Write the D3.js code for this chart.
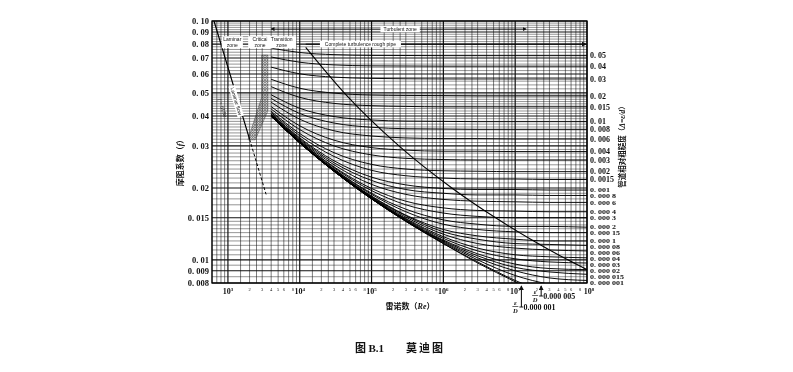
<!DOCTYPE html>
<html>
<head>
<meta charset="utf-8">
<script src="https://cdn.jsdelivr.net/npm/d3@7"></script>
<style>
  body { margin: 0; background: #fff; }
  svg { will-change: transform; }
  text { fill: #111; -webkit-font-smoothing: antialiased; }
</style>
</head>
<body>
<div id="chart"></div>
<script>
const reNodes = [4e3, 1e4, 3e4, 1e5, 3e5, 1e6, 3e6, 1e7, 3e7, 1e8];

// relative roughness of each curve (top to bottom)
const roughness = [0.05, 0.04, 0.03, 0.02, 0.015, 0.01, 0.008, 0.006, 0.004, 0.003, 0.002, 0.0015,
  0.001, 0.0008, 0.0006, 0.0004, 0.0003, 0.0002, 0.00015, 0.0001, 0.00008, 0.00006, 0.00004,
  0.00003, 0.00002, 0.000015, 0.00001, 0.000005, 0.000001];

// friction factor read at each reNodes value, one row per roughness
const frictionRows = [
  [0.0770, 0.0738, 0.0723, 0.0718, 0.0717, 0.0716, 0.0716, 0.0716, 0.0716, 0.0716],
  [0.0707, 0.0672, 0.0655, 0.0649, 0.0648, 0.0647, 0.0647, 0.0647, 0.0647, 0.0647],
  [0.0641, 0.0601, 0.0582, 0.0575, 0.0573, 0.0572, 0.0572, 0.0572, 0.0572, 0.0572],
  [0.0570, 0.0523, 0.0499, 0.0490, 0.0488, 0.0487, 0.0486, 0.0486, 0.0486, 0.0486],
  [0.0531, 0.0479, 0.0452, 0.0442, 0.0439, 0.0437, 0.0437, 0.0437, 0.0437, 0.0437],
  [0.0491, 0.0431, 0.0398, 0.0385, 0.0381, 0.0380, 0.0379, 0.0379, 0.0379, 0.0379],
  [0.0474, 0.0410, 0.0374, 0.0359, 0.0354, 0.0353, 0.0352, 0.0352, 0.0352, 0.0352],
  [0.0457, 0.0388, 0.0347, 0.0330, 0.0324, 0.0322, 0.0322, 0.0321, 0.0321, 0.0321],
  [0.0438, 0.0364, 0.0317, 0.0295, 0.0288, 0.0285, 0.0285, 0.0284, 0.0284, 0.0284],
  [0.0428, 0.0351, 0.0300, 0.0275, 0.0266, 0.0263, 0.0262, 0.0262, 0.0262, 0.0262],
  [0.0419, 0.0338, 0.0281, 0.0251, 0.0240, 0.0236, 0.0235, 0.0234, 0.0234, 0.0234],
  [0.0414, 0.0331, 0.0271, 0.0237, 0.0225, 0.0220, 0.0218, 0.0218, 0.0217, 0.0217],
  [0.0409, 0.0324, 0.0260, 0.0222, 0.0206, 0.0199, 0.0197, 0.0197, 0.0196, 0.0196],
  [0.0407, 0.0321, 0.0255, 0.0215, 0.0197, 0.0190, 0.0187, 0.0187, 0.0186, 0.0186],
  [0.0405, 0.0318, 0.0250, 0.0207, 0.0188, 0.0179, 0.0176, 0.0175, 0.0174, 0.0174],
  [0.0403, 0.0315, 0.0245, 0.0199, 0.0176, 0.0165, 0.0161, 0.0160, 0.0159, 0.0159],
  [0.0402, 0.0314, 0.0243, 0.0195, 0.0170, 0.0157, 0.0152, 0.0150, 0.0150, 0.0150],
  [0.0401, 0.0312, 0.0240, 0.0190, 0.0163, 0.0147, 0.0141, 0.0138, 0.0138, 0.0137],
  [0.0401, 0.0311, 0.0239, 0.0188, 0.0159, 0.0141, 0.0134, 0.0131, 0.0130, 0.0130],
  [0.0400, 0.0310, 0.0238, 0.0185, 0.0154, 0.0134, 0.0126, 0.0122, 0.0120, 0.0120],
  [0.0400, 0.0310, 0.0237, 0.0184, 0.0153, 0.0131, 0.0122, 0.0117, 0.0116, 0.0115],
  [0.0400, 0.0310, 0.0236, 0.0183, 0.0151, 0.0128, 0.0117, 0.0112, 0.0110, 0.0109],
  [0.0400, 0.0309, 0.0236, 0.0182, 0.0149, 0.0125, 0.0112, 0.0105, 0.0103, 0.0102],
  [0.0399, 0.0309, 0.0236, 0.0182, 0.0148, 0.0123, 0.0109, 0.0101, 0.0098, 0.0097],
  [0.0399, 0.0309, 0.0235, 0.0181, 0.0147, 0.0121, 0.0106, 0.0096, 0.0092, 0.0091],
  [0.0399, 0.0309, 0.0235, 0.0181, 0.0146, 0.0120, 0.0104, 0.0093, 0.0089, 0.0087],
  [0.0399, 0.0309, 0.0235, 0.0180, 0.0146, 0.0119, 0.0102, 0.0090, 0.0084, 0.0082],
  [0.0399, 0.0309, 0.0235, 0.0180, 0.0145, 0.0118, 0.0100, 0.0086, 0.0079, 0.0075],
  [0.0399, 0.0309, 0.0235, 0.0180, 0.0145, 0.0117, 0.0098, 0.0082, 0.0072, 0.0064]
];
// hydraulically smooth pipe
const smoothRow = [0.0399, 0.0309, 0.0235, 0.0180, 0.0145, 0.0117, 0.0097, 0.0081, 0.0069, 0.0059];

// labels printed on the right (first 27 curves)
const rightLabels = ["0. 05", "0. 04", "0. 03", "0. 02", "0. 015", "0. 01", "0. 008", "0. 006",
  "0. 004", "0. 003", "0. 002", "0. 0015", "0. 001", "0. 000 8", "0. 000 6", "0. 000 4",
  "0. 000 3", "0. 000 2", "0. 000 15", "0. 000 1", "0. 000 08", "0. 000 06", "0. 000 04",
  "0. 000 03", "0. 000 02", "0. 000 015", "0. 000 001"];

const yTicks = [0.10, 0.09, 0.08, 0.07, 0.06, 0.05, 0.04, 0.03, 0.02, 0.015, 0.01, 0.009, 0.008];
const yTickLabels = ["0. 10", "0. 09", "0. 08", "0. 07", "0. 06", "0. 05", "0. 04", "0. 03",
  "0. 02", "0. 015", "0. 01", "0. 009", "0. 008"];

const xDecades = [3, 4, 5, 6, 7, 8];
const xMinorLabels = [2, 3, 4, 5, 6, 8];
const gridMultipliers = [1, 1.5, 2, 2.5, 3, 4, 5, 6, 7, 8, 9];

// laminar line f = 64/Re, read at its ends
const laminarSolid = [[640, 0.100], [2000, 0.032]];
const laminarDashed = [[2000, 0.032], [3400, 0.0188]];

// boundary between transition and complete turbulence
const boundaryRe = [12100, 41600, 240600, 1.313e6, 5.34e6, 1.81e7, 5.4e7, 1e8];
const boundaryF = [0.0775, 0.05, 0.03, 0.02, 0.015, 0.012, 0.01, 0.0091];

// hatched critical zone outline
const criticalZone = [[1900, 0.0318], [2400, 0.0318], [3600, 0.042], [3600, 0.072], [2950, 0.072], [2950, 0.048]];

// arrows at the bottom: roughness curves leaving the chart
const bottomArrows = [
  { re: 1.22e7, value: "0.000 001", len: 22 },
  { re: 2.3e7, value: "0.000 005", len: 11 }
];

const W = 793, H = 372;
const serif = "'Liberation Serif','DejaVu Serif',serif";
const cjk = "'Noto Sans CJK SC','Noto Sans',sans-serif";
const sans = "'Liberation Sans',Arial,sans-serif";

const svg = d3.select("#chart").append("svg")
  .attr("width", W).attr("height", H)
  .style("background", "#fff");

const plot = { left: 212, right: 587, top: 21, bottom: 283 };
const x = d3.scaleLog().domain([600, 1e8]).range([plot.left, plot.right]);
const y = d3.scaleLog().domain([0.008, 0.1]).range([plot.bottom, plot.top]);

const defs = svg.append("defs");
defs.append("clipPath").attr("id", "plot-clip")
  .append("rect")
  .attr("x", plot.left).attr("y", plot.top)
  .attr("width", plot.right - plot.left).attr("height", plot.bottom - plot.top);

const hatch = defs.append("pattern")
  .attr("id", "hatch").attr("patternUnits", "userSpaceOnUse")
  .attr("width", 2.5).attr("height", 2.5);
hatch.append("path").attr("d", "M0,2.5 L2.5,0").attr("stroke", "#333").attr("stroke-width", 0.5);
hatch.append("path").attr("d", "M0,0 L2.5,2.5").attr("stroke", "#333").attr("stroke-width", 0.5);

defs.append("marker").attr("id", "arrow")
  .attr("viewBox", "0 0 6 6").attr("refX", 5).attr("refY", 3)
  .attr("markerWidth", 5).attr("markerHeight", 5).attr("orient", "auto-start-reverse")
  .append("path").attr("d", "M0,0 L6,3 L0,6 Z").attr("fill", "#111");

// ---- grid ----
const vGrid = [];
for (let e = 2; e <= 7; e++) {
  gridMultipliers.forEach(m => {
    const v = m * Math.pow(10, e);
    if (v >= 600 && v <= 1e8) vGrid.push(v);
  });
}
vGrid.push(1e8);

const hGrid = [].concat(
  d3.range(0, 14).map(i => +(0.008 + i * 0.0005).toFixed(4)),
  d3.range(0, 35).map(i => +(0.015 + i * 0.001).toFixed(4)),
  d3.range(0, 26).map(i => +(0.05 + i * 0.002).toFixed(4))
);

const grid = svg.append("g");
grid.selectAll(".vg").data(vGrid).join("line")
  .attr("x1", d => x(d)).attr("x2", d => x(d))
  .attr("y1", plot.top).attr("y2", plot.bottom)
  .attr("stroke", "#111")
  .attr("stroke-width", d => Math.abs(Math.log10(d) % 1) < 1e-6 ? 1.2 : 0.55);

grid.selectAll(".hg").data(hGrid).join("line")
  .attr("x1", plot.left).attr("x2", plot.right)
  .attr("y1", d => y(d)).attr("y2", d => y(d))
  .attr("stroke", "#111")
  .attr("stroke-width", d => yTicks.some(t => Math.abs(t - d) < 1e-6) ? 1.1 : 0.45);

// frame
svg.append("rect")
  .attr("x", plot.left).attr("y", plot.top)
  .attr("width", plot.right - plot.left).attr("height", plot.bottom - plot.top)
  .attr("fill", "none").attr("stroke", "#000").attr("stroke-width", 1.3);

// ---- critical zone hatch ----
const curves = svg.append("g").attr("clip-path", "url(#plot-clip)");
curves.append("path")
  .attr("d", "M" + criticalZone.map(p => [x(p[0]), y(p[1])].join(",")).join("L") + "Z")
  .attr("fill", "url(#hatch)").attr("stroke", "#333").attr("stroke-width", 0.4);

// ---- friction curves ----
const line = d3.line()
  .x((d, i) => x(reNodes[i]))
  .y(d => y(d))
  .curve(d3.curveMonotoneX);

curves.selectAll(".rough").data(frictionRows.concat([smoothRow])).join("path")
  .attr("d", line)
  .attr("fill", "none").attr("stroke", "#000").attr("stroke-width", 0.95);

// laminar line
const pline = d3.line().x(d => x(d[0])).y(d => y(d[1]));
curves.append("path").attr("d", pline(laminarSolid))
  .attr("fill", "none").attr("stroke", "#000").attr("stroke-width", 1.2);
curves.append("path").attr("d", pline(laminarDashed))
  .attr("fill", "none").attr("stroke", "#000").attr("stroke-width", 1)
  .attr("stroke-dasharray", "3,2");

// transition / rough boundary
curves.append("path")
  .attr("d", d3.line().x(d => x(d)).y((d, i) => y(boundaryF[i])).curve(d3.curveMonotoneX)(boundaryRe))
  .attr("fill", "none").attr("stroke", "#000").attr("stroke-width", 1.1);

// ---- zone annotations ----
const ann = svg.append("g").style("font-family", sans).style("font-size", "5px");
function boxLabel(cx, cy, lines) {
  const g = ann.append("g");
  const w = d3.max(lines, s => s.length) * 2.6 + 3;
  const h = lines.length * 5.5 + 1;
  g.append("rect").attr("x", cx - w / 2).attr("y", cy - h / 2).attr("width", w).attr("height", h)
    .attr("fill", "#fff");
  lines.forEach((s, i) => {
    g.append("text").attr("x", cx).attr("y", cy - h / 2 + 5 + i * 5.5)
      .attr("text-anchor", "middle").text(s);
  });
}
const zoneY = y(0.0815);
boxLabel(x(1150), zoneY, ["Laminar", "zone"]);
boxLabel(x(2800), zoneY, ["Critical", "zone"]);
boxLabel(x(5600), zoneY, ["Transition", "zone"]);

// complete turbulence arrow along the 0.08 line
ann.append("line")
  .attr("x1", x(12100)).attr("x2", plot.right - 1)
  .attr("y1", y(0.08)).attr("y2", y(0.08))
  .attr("stroke", "#000").attr("stroke-width", 1)
  .attr("marker-end", "url(#arrow)");
boxLabel(x(70000), y(0.08), ["Complete turbulence rough pipe"]);

// turbulent zone arrow
const turbY = y(0.0925);
ann.append("line")
  .attr("x1", x(4000)).attr("x2", x(1.42e7))
  .attr("y1", turbY).attr("y2", turbY)
  .attr("stroke", "#000").attr("stroke-width", 0.8)
  .attr("marker-start", "url(#arrow)").attr("marker-end", "url(#arrow)");
boxLabel(x(250000), turbY, ["Turbulent zone"]);

// laminar flow labels
const lamAngle = Math.atan2(y(0.0188) - y(0.1), x(3400) - x(640)) * 180 / Math.PI;
const lx = x(1380) - 3, ly = y(0.046);
const lg = ann.append("g").attr("transform", `translate(${lx},${ly}) rotate(${lamAngle})`);
lg.append("rect").attr("x", -16).attr("y", -4.5).attr("width", 32).attr("height", 6.5).attr("fill", "#fff");
lg.append("text").attr("text-anchor", "middle").attr("y", 0.5).text("Laminar flow");
ann.append("text")
  .attr("transform", `translate(${x(1000) - 7},${y(0.043)}) rotate(${lamAngle})`)
  .attr("text-anchor", "middle")
  .style("font-family", serif).style("font-size", "5px").style("font-style", "italic")
  .text("f = 64/Re");

// ---- left axis ----
svg.append("g").selectAll("text").data(yTicks).join("text")
  .attr("x", plot.left - 3).attr("y", d => y(d)).attr("dy", "0.35em")
  .attr("text-anchor", "end")
  .style("font-family", serif).style("font-size", "8.5px").style("font-weight", "bold")
  .text((d, i) => yTickLabels[i]);

svg.append("text")
  .attr("transform", `translate(183,161) rotate(-90)`)
  .attr("text-anchor", "middle")
  .style("font-family", cjk).style("font-size", "8px").style("font-weight", "bold")
  .html('摩阻系数（<tspan style="font-family:' + serif + ';font-style:italic">f</tspan>）');

// ---- bottom axis ----
const bx = svg.append("g").style("font-family", serif);
xDecades.forEach(e => {
  const t = bx.append("text").attr("x", x(Math.pow(10, e)) + (e === 8 ? 2 : 0)).attr("y", 294)
    .attr("text-anchor", "middle").style("font-size", "8px").style("font-weight", "bold");
  t.append("tspan").text("10");
  t.append("tspan").attr("dy", -3).style("font-size", "5px").text(e);
  if (e < 8) {
    xMinorLabels.forEach(m => {
      bx.append("text").attr("x", x(m * Math.pow(10, e))).attr("y", 291)
        .attr("text-anchor", "middle").style("font-size", "4.5px").text(m);
    });
  }
});

svg.append("text")
  .attr("x", 410).attr("y", 309).attr("text-anchor", "middle")
  .style("font-family", cjk).style("font-size", "8px").style("font-weight", "bold")
  .html('雷诺数（<tspan style="font-family:' + serif + ';font-style:italic">Re</tspan>）');

// bottom arrows for the smallest roughness curves
bottomArrows.forEach(a => {
  const ax = x(a.re);
  const top = plot.bottom + 2;
  const bottom = top + a.len;
  svg.append("line").attr("x1", ax).attr("x2", ax).attr("y1", bottom).attr("y2", top + 1)
    .attr("stroke", "#000").attr("stroke-width", 1).attr("marker-end", "url(#arrow)");
  const fx = ax - 6, fy = bottom - 2;
  const g = svg.append("g").style("font-family", serif).style("font-weight", "bold");
  g.append("text").attr("x", fx).attr("y", fy).attr("text-anchor", "middle")
    .style("font-size", "6.5px").style("font-style", "italic").text("ε");
  g.append("line").attr("x1", fx - 3).attr("x2", fx + 3).attr("y1", fy + 1.5).attr("y2", fy + 1.5)
    .attr("stroke", "#000").attr("stroke-width", 0.6);
  g.append("text").attr("x", fx).attr("y", fy + 8).attr("text-anchor", "middle")
    .style("font-size", "6.5px").style("font-style", "italic").text("D");
  g.append("text").attr("x", fx + 3.5).attr("y", fy + 5).style("font-size", "8px")
    .text("=" + a.value);
});

// ---- right labels ----
const labelGap = 6;
const labelYs = rightLabels.map((s, i) => y(frictionRows[i][frictionRows[i].length - 1]));
for (let i = 1; i < labelYs.length; i++) {
  if (labelYs[i] - labelYs[i - 1] < labelGap) labelYs[i] = labelYs[i - 1] + labelGap;
}
// crowded labels are squeezed vertically, like the printed chart
const labelFont = 8;
const labelScale = labelYs.map((v, i) => {
  const up = i > 0 ? v - labelYs[i - 1] : 20;
  const down = i < labelYs.length - 1 ? labelYs[i + 1] - v : 20;
  return Math.min(1, Math.min(up, down) / (labelFont * 1.02));
});
svg.append("g").selectAll("text").data(rightLabels).join("text")
  .attr("transform", (d, i) => `translate(${plot.right + 3},${labelYs[i]}) scale(1,${labelScale[i]})`)
  .attr("dy", "0.35em")
  .style("font-family", serif).style("font-weight", "bold")
  .style("font-size", labelFont + "px")
  .text(d => d);

svg.append("text")
  .attr("transform", `translate(625,145) rotate(-90)`)
  .attr("text-anchor", "middle")
  .style("font-family", cjk).style("font-size", "7.5px").style("font-weight", "bold")
  .html('管道相对粗糙度（<tspan style="font-family:' + serif + ';font-style:italic">Δ=ε/d</tspan>）');

// ---- caption ----
const cap = svg.append("text").attr("x", 355).attr("y", 352)
  .style("font-size", "11px").style("font-weight", "bold");
cap.append("tspan").style("font-family", cjk).text("图 ");
cap.append("tspan").style("font-family", serif).text("B.1");
cap.append("tspan").attr("dx", 22).style("font-family", cjk).style("letter-spacing", "2px").text("莫迪图");
</script>
</body>
</html>
